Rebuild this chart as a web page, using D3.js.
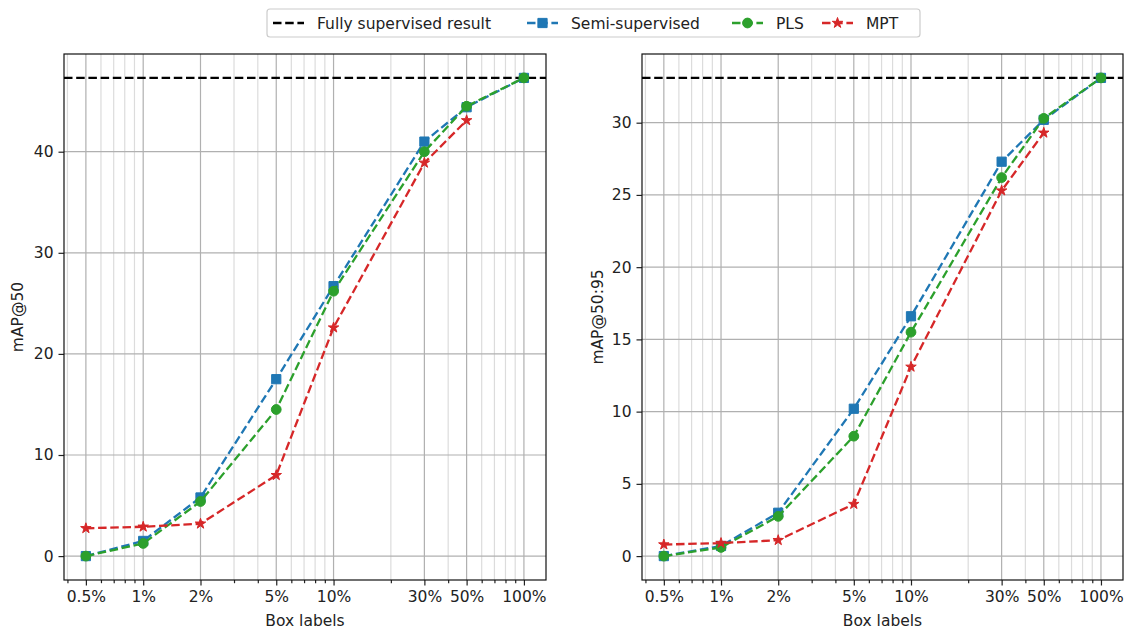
<!DOCTYPE html>
<html><head><meta charset="utf-8">
<script src="https://cdn.jsdelivr.net/npm/d3@7"></script>
<style>
body{margin:0;background:#fff;}
text{font-family:"DejaVu Sans",sans-serif;fill:#222;}
</style></head>
<body>
<svg id="c" width="1128" height="630"></svg>
<script>
// ---- data ----
const boxLabels = [0.5, 1, 2, 5, 10, 30, 50, 100];
const tickLabels = ["0.5%", "1%", "2%", "5%", "10%", "30%", "50%", "100%"];
const minorTicks = [0.4, 0.6, 0.7, 0.8, 0.9, 3, 4, 6, 7, 8, 9, 20, 40, 60, 70, 80, 90];

const map50Semi = [0.0, 1.5, 5.8, 17.5, 26.7, 41.0, 44.4, 47.3];
const map50PLS  = [0.0, 1.25, 5.4, 14.5, 26.2, 40.0, 44.5, 47.3];
const map50MPT  = [2.75, 2.9, 3.2, 8.0, 22.6, 38.9, 43.1];
const map50Full = 47.3;
const map50Ticks = [0, 10, 20, 30, 40];

const map5095Semi = [0.0, 0.7, 3.0, 10.2, 16.6, 27.3, 30.2, 33.1];
const map5095PLS  = [0.0, 0.6, 2.75, 8.3, 15.5, 26.2, 30.3, 33.1];
const map5095MPT  = [0.8, 0.9, 1.1, 3.6, 13.1, 25.3, 29.3];
const map5095Full = 33.1;
const map5095Ticks = [0, 5, 10, 15, 20, 25, 30];

const seriesNames = ["Fully supervised result", "Semi-supervised", "PLS", "MPT"];
const colors = {full: "#000000", semi: "#1f77b4", pls: "#2ca02c", mpt: "#d62728"};

// ---- layout ----
const svg = d3.select("#c");
const FS = 15.5;
const LW = 2.3;
const DASH = "8.5,3.7";
const plotTop = 54, plotBottom = 580;

function panel(x0, x1, semi, pls, mpt, full, yTicks, yLabel, yLabelX) {
  const xs = d3.scaleLog().domain([Math.pow(10, -0.416), Math.pow(10, 2.116)]).range([x0, x1]);
  const allY = semi.concat(pls, mpt, [full]);
  const ymin = d3.min(allY), ymax = d3.max(allY), m = (ymax - ymin) * 0.05;
  const ys = d3.scaleLinear().domain([ymin - m, ymax + m]).range([plotBottom, plotTop]);
  const g = svg.append("g");

  g.selectAll(".mg").data(minorTicks).enter().append("line")
    .attr("x1", d => xs(d)).attr("x2", d => xs(d)).attr("y1", plotTop).attr("y2", plotBottom)
    .attr("stroke", "#dcdcdc").attr("stroke-width", 1.2);
  g.selectAll(".Mg").data(boxLabels).enter().append("line")
    .attr("x1", d => xs(d)).attr("x2", d => xs(d)).attr("y1", plotTop).attr("y2", plotBottom)
    .attr("stroke", "#b0b0b0").attr("stroke-width", 1.2);
  g.selectAll(".yg").data(yTicks).enter().append("line")
    .attr("x1", x0).attr("x2", x1).attr("y1", d => ys(d)).attr("y2", d => ys(d))
    .attr("stroke", "#b0b0b0").attr("stroke-width", 1.2);

  const xAxis = d3.axisBottom(xs).tickValues(boxLabels).tickFormat((d, i) => tickLabels[i])
    .tickSize(5.5).tickPadding(5);
  const xa = g.append("g").attr("transform", `translate(0,${plotBottom})`).call(xAxis);
  const xMinor = d3.axisBottom(xs).tickValues(minorTicks).tickFormat("").tickSize(3.2);
  const xm = g.append("g").attr("transform", `translate(0,${plotBottom})`).call(xMinor);
  const yAxis = d3.axisLeft(ys).tickValues(yTicks).tickSize(5.5).tickPadding(5);
  const ya = g.append("g").attr("transform", `translate(${x0},0)`).call(yAxis);
  [xa, ya, xm].forEach(a => {
    a.selectAll("text").attr("font-size", FS).attr("font-family", "DejaVu Sans").attr("fill", "#222");
    a.selectAll("line").attr("stroke", "#222").attr("stroke-width", 1.2);
    a.select(".domain").remove();
  });
  g.append("rect").attr("x", x0).attr("y", plotTop).attr("width", x1 - x0).attr("height", plotBottom - plotTop)
    .attr("fill", "none").attr("stroke", "#111").attr("stroke-width", 1.2);

  g.append("line").attr("x1", x0).attr("x2", x1).attr("y1", ys(full)).attr("y2", ys(full))
    .attr("stroke", colors.full).attr("stroke-width", LW).attr("stroke-dasharray", DASH);

  const defs = [
    {vals: semi, color: colors.semi, sym: d3.symbolSquare, size: 85},
    {vals: pls, color: colors.pls, sym: d3.symbolCircle, size: 75},
    {vals: mpt, color: colors.mpt, sym: d3.symbolStar, size: 34}
  ];
  defs.forEach(s => {
    const pts = s.vals.map((v, i) => [boxLabels[i], v]);
    const line = d3.line().x(d => xs(d[0])).y(d => ys(d[1]));
    g.append("path").attr("d", line(pts)).attr("fill", "none").attr("stroke", s.color)
      .attr("stroke-width", LW).attr("stroke-dasharray", DASH);
    g.selectAll(null).data(pts).enter().append("path")
      .attr("d", d3.symbol().type(s.sym).size(s.size))
      .attr("transform", d => `translate(${xs(d[0])},${ys(d[1])})`)
      .attr("fill", s.color).attr("stroke", s.color).attr("stroke-width", 1);
  });

  g.append("text").attr("x", (x0 + x1) / 2).attr("y", 626).attr("text-anchor", "middle")
    .attr("font-size", FS).text("Box labels");
  g.append("text").attr("transform", `translate(${yLabelX},${(plotTop + plotBottom) / 2}) rotate(-90)`)
    .attr("text-anchor", "middle").attr("font-size", FS).text(yLabel);
}

panel(64, 546, map50Semi, map50PLS, map50MPT, map50Full, map50Ticks, "mAP@50", 23);
panel(642, 1123, map5095Semi, map5095PLS, map5095MPT, map5095Full, map5095Ticks, "mAP@50:95", 603);

// ---- legend ----
const lg = svg.append("g");
lg.append("rect").attr("x", 267).attr("y", 9).attr("width", 653).attr("height", 28).attr("rx", 3)
  .attr("fill", "#fff").attr("stroke", "#cccccc").attr("stroke-width", 1.2);
const legItems = [
  {name: seriesNames[0], color: colors.full, sym: null},
  {name: seriesNames[1], color: colors.semi, sym: d3.symbolSquare, size: 85},
  {name: seriesNames[2], color: colors.pls, sym: d3.symbolCircle, size: 75},
  {name: seriesNames[3], color: colors.mpt, sym: d3.symbolStar, size: 34}
];
const legStarts = [273, 527, 732, 822];
const ly = 23;
legItems.forEach((it, i) => {
  const cx = legStarts[i];
  lg.append("line").attr("x1", cx).attr("x2", cx + 31).attr("y1", ly).attr("y2", ly)
    .attr("stroke", it.color).attr("stroke-width", LW).attr("stroke-dasharray", DASH);
  if (it.sym) {
    lg.append("path").attr("d", d3.symbol().type(it.sym).size(it.size))
      .attr("transform", `translate(${cx + 15.5},${ly})`).attr("fill", it.color).attr("stroke", it.color);
  }
  lg.append("text").attr("x", cx + 44).attr("y", ly + 5.5).attr("font-size", FS).text(it.name);
});
</script>
</body></html>
